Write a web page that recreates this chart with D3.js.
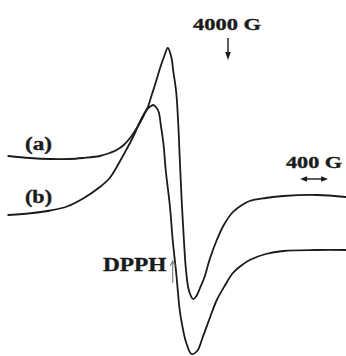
<!DOCTYPE html>
<html>
<head>
<meta charset="utf-8">
<script src="https://cdn.jsdelivr.net/npm/d3@7"></script>
<style>
  html, body { margin: 0; padding: 0; background: #fff; }
  svg { display: block; }
</style>
</head>
<body>
<script>
// EPR first-derivative spectra: magnetic field (G) vs. signal (arb. units)
const fieldA  = [860, 1170, 1460, 1740, 1930, 2170, 2310, 2410, 2510, 2600, 2670, 2740, 2800, 2860, 2910, 2970, 3030, 3090, 3140, 3190, 3220, 3260, 3290, 3310, 3340, 3370, 3400, 3440, 3500, 3540, 3600, 3660, 3740, 3840, 3940, 4070, 4200, 4310, 4540, 4790, 5270, 5690];
const signalA = [22, 20, 19, 19, 20, 22, 25, 28, 33, 40, 47, 55, 63, 72, 83, 96, 110, 122, 130, 121, 106, 86, 53, 21, -25, -62, -92, -112, -121, -119, -110, -100, -81, -62, -47, -34, -27, -23, -20, -18, -17, -19];

const fieldB  = [860, 1210, 1460, 1700, 1930, 2170, 2310, 2410, 2510, 2600, 2670, 2740, 2800, 2860, 2900, 2930, 2970, 3010, 3040, 3080, 3110, 3170, 3210, 3260, 3310, 3340, 3400, 3480, 3560, 3640, 3740, 3840, 3960, 4070, 4200, 4310, 4540, 4790, 5270, 5690];
const signalB = [-37, -35, -32.5, -28.5, -20.5, -9, 0, 11, 23.5, 35, 45, 56, 64, 70, 72, 73, 71, 66, 53, 33, 8, -28, -62, -95, -132, -145, -164, -176, -173, -159, -140, -122, -107, -95, -87, -82, -76, -73, -72, -72];

const seriesLabels = ["(a)", "(b)"];

// Field markers
const centreField = 4000;
const centreLabel = "4000 G";
const scaleBarFields = [5030, 5430];
const scaleBarLabel = "400 G";
const referenceField = 3210;
const referenceLabel = "DPPH";

const W = 346, H = 356;
const ink = "#1b1b1b";
const font = "'Liberation Serif', 'Times New Roman', serif";

const svg = d3.select("body").append("svg")
  .attr("width", W).attr("height", H)
  .attr("viewBox", `0 0 ${W} ${H}`);

const x = d3.scaleLinear().domain([800, 5700]).range([4, 347]);
const y = d3.scaleLinear().domain([-178, 178]).range([356, 0]);

const line = d3.line()
  .x(d => x(d[0]))
  .y(d => y(d[1]))
  .curve(d3.curveCatmullRom.alpha(0.5));

const spectra = [
  d3.zip(fieldA, signalA),
  d3.zip(fieldB, signalB)
];

svg.append("g")
  .selectAll("path")
  .data(spectra)
  .join("path")
  .attr("d", line)
  .attr("fill", "none")
  .attr("stroke", ink)
  .attr("stroke-width", 1.8)
  .attr("stroke-linejoin", "round")
  .attr("stroke-linecap", "round");

function label(text, x0, baseline, width, size) {
  return svg.append("text")
    .attr("x", x0).attr("y", baseline)
    .attr("font-family", font)
    .attr("font-weight", "bold")
    .attr("font-size", size)
    .attr("fill", ink)
    .attr("stroke", ink)
    .attr("stroke-width", 0.35)
    .attr("textLength", width)
    .attr("lengthAdjust", "spacingAndGlyphs")
    .text(text);
}

// Series labels
label(seriesLabels[0], 25, 149.5, 27, 18);
label(seriesLabels[1], 25, 203, 27, 18);

// Centre-field marker
const cx = x(centreField);
label(centreLabel, 193, 30, 68, 17);
svg.append("line")
  .attr("x1", cx).attr("x2", cx).attr("y1", 38).attr("y2", 54)
  .attr("stroke", ink).attr("stroke-width", 1.4);
svg.append("path")
  .attr("d", `M${cx - 2.8},52 L${cx + 2.8},52 L${cx},60 Z`)
  .attr("fill", ink);

// 400 G scale bar
const sx0 = x(scaleBarFields[0]), sx1 = x(scaleBarFields[1]);
const sy = 179;
label(scaleBarLabel, 286, 167.5, 56, 17);
svg.append("line")
  .attr("x1", sx0 + 4).attr("x2", sx1 - 4).attr("y1", sy).attr("y2", sy)
  .attr("stroke", ink).attr("stroke-width", 1.4);
svg.append("path")
  .attr("d", `M${sx0},${sy} L${sx0 + 7},${sy - 2.8} L${sx0 + 7},${sy + 2.8} Z M${sx1},${sy} L${sx1 - 7},${sy - 2.8} L${sx1 - 7},${sy + 2.8} Z`)
  .attr("fill", ink);

// DPPH reference marker
const dx = x(referenceField);
label(referenceLabel, 103, 271, 63.5, 18);
svg.append("line")
  .attr("x1", dx).attr("x2", dx).attr("y1", 283).attr("y2", 261.5)
  .attr("stroke", "#7a7a7a").attr("stroke-width", 1.1);
svg.append("path")
  .attr("d", `M${dx - 2.6},266 L${dx},261 L${dx + 2.6},266`)
  .attr("fill", "none")
  .attr("stroke", "#7a7a7a").attr("stroke-width", 1.1);
</script>
</body>
</html>
